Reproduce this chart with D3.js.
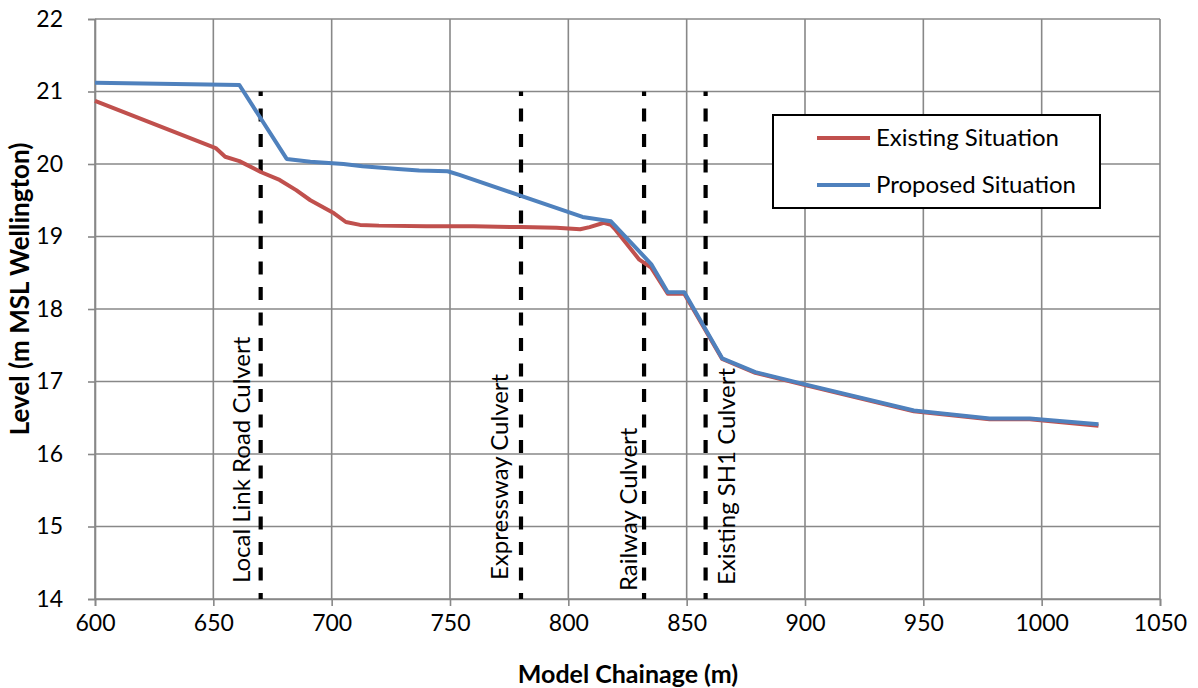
<!DOCTYPE html>
<html>
<head>
<meta charset="utf-8">
<script src="https://cdn.jsdelivr.net/npm/d3@7"></script>
<style>
  html, body { margin: 0; padding: 0; background: #fff; }
  svg { display: block; font-family: Lato, "Open Sans", sans-serif; }
</style>
</head>
<body>
<svg id="chart" width="1198" height="688"></svg>
<script>
// Water level profile along the model chainage
const existingChainage = [600, 651, 655, 661, 670, 678, 685, 691, 696, 701, 706, 712, 720, 740, 760, 780, 795, 805, 809, 815, 818, 820, 830, 835, 842, 849, 865, 879, 900, 946, 978, 995, 1024];
const existingLevel    = [20.87, 20.22, 20.10, 20.04, 19.89, 19.78, 19.64, 19.50, 19.41, 19.32, 19.20, 19.16, 19.15, 19.14, 19.14, 19.13, 19.12, 19.10, 19.13, 19.19, 19.16, 19.09, 18.68, 18.57, 18.21, 18.21, 17.31, 17.12, 16.95, 16.59, 16.48, 16.48, 16.39];

const proposedChainage = [600, 661, 681, 691, 705, 713, 728, 737, 749, 754, 780, 806, 818, 835, 842, 849, 865, 879, 900, 946, 978, 995, 1024];
const proposedLevel    = [21.12, 21.09, 20.07, 20.03, 20.00, 19.97, 19.93, 19.91, 19.90, 19.85, 19.56, 19.27, 19.21, 18.62, 18.23, 18.23, 17.32, 17.13, 16.96, 16.60, 16.49, 16.49, 16.41];

const culvertNames     = ["Local Link Road Culvert", "Expressway Culvert", "Railway Culvert", "Existing SH1 Culvert"];
const culvertChainage  = [670, 780, 832, 858];
const culvertLevelTop  = [21, 21, 21, 21];

const xTicks = [600, 650, 700, 750, 800, 850, 900, 950, 1000, 1050];
const yTicks = [14, 15, 16, 17, 18, 19, 20, 21, 22];

const seriesNames  = ["Existing Situation", "Proposed Situation"];
const seriesColors = ["#C0504D", "#4F81BD"];

const svg = d3.select("#chart");
const plotLeft = 95, plotRight = 1160, plotTop = 19, plotBottom = 599;

const x = d3.scaleLinear().domain([600, 1050]).range([plotLeft, plotRight]);
const y = d3.scaleLinear().domain([14, 22]).range([plotBottom, plotTop]);

const gridColor = "#888888";

// gridlines
const grid = svg.append("g");
grid.selectAll("line.v").data(xTicks).join("line").attr("class", "v")
  .attr("x1", d => x(d)).attr("x2", d => x(d))
  .attr("y1", plotTop).attr("y2", plotBottom)
  .attr("stroke", gridColor).attr("stroke-width", 1.6);
grid.selectAll("line.h").data(yTicks).join("line").attr("class", "h")
  .attr("x1", plotLeft).attr("x2", plotRight)
  .attr("y1", d => y(d)).attr("y2", d => y(d))
  .attr("stroke", gridColor).attr("stroke-width", 1.6);

// axes
const xAxis = d3.axisBottom(x).tickValues(xTicks).tickSize(7).tickPadding(9).tickFormat(d3.format("d"));
const yAxis = d3.axisLeft(y).tickValues(yTicks).tickSize(7).tickPadding(26).tickFormat(d3.format("d"));

const gx = svg.append("g").attr("transform", `translate(0,${plotBottom})`).call(xAxis);
const gy = svg.append("g").attr("transform", `translate(${plotLeft},0)`).call(yAxis);
[gx, gy].forEach(g => {
  g.select(".domain").attr("stroke", gridColor).attr("stroke-width", 1.6);
  g.selectAll(".tick line").attr("stroke", gridColor).attr("stroke-width", 1.6);
  g.selectAll(".tick text").attr("fill", "#000").style("font-size", "23px")
    .style("font-family", "Lato, 'Open Sans', sans-serif");
});
gy.selectAll(".tick text").attr("text-anchor", "end").attr("x", -(plotLeft - 63));

// culvert markers
const culverts = culvertNames.map((n, i) => ({ name: n, ch: culvertChainage[i], lvl: culvertLevelTop[i] }));
svg.append("g").selectAll("line").data(culverts).join("line")
  .attr("x1", d => x(d.ch)).attr("x2", d => x(d.ch))
  .attr("y1", d => y(d.lvl)).attr("y2", plotBottom)
  .attr("stroke", "#000").attr("stroke-width", 4.2)
  .attr("stroke-dasharray", "13,12.5").attr("stroke-dashoffset", 8.5);

// culvert labels (rotated, baseline offsets from the marker)
const labelDx     = [-11, -13, -7, 29];
const labelBottom = [583, 580, 591, 585];
svg.append("g").selectAll("text").data(culverts).join("text")
  .attr("transform", (d, i) => `translate(${x(d.ch) + labelDx[i]},${labelBottom[i]}) rotate(-90)`)
  .attr("text-anchor", "start")
  .style("font-size", "24px")
  .text(d => d.name);

// series lines
const line = d3.line().x(d => x(d[0])).y(d => y(d[1]));
const series = [
  d3.zip(existingChainage, existingLevel),
  d3.zip(proposedChainage, proposedLevel)
];
svg.append("g").selectAll("path").data(series).join("path")
  .attr("d", line)
  .attr("fill", "none")
  .attr("stroke", (d, i) => seriesColors[i])
  .attr("stroke-width", 4)
  .attr("stroke-linejoin", "round");

// legend
const lg = svg.append("g");
lg.append("rect").attr("x", 773).attr("y", 115).attr("width", 327).attr("height", 93)
  .attr("fill", "#fff").attr("stroke", "#000").attr("stroke-width", 2);
const legendRows = [138, 185];
seriesNames.forEach((n, i) => {
  lg.append("line").attr("x1", 817).attr("x2", 870)
    .attr("y1", legendRows[i]).attr("y2", legendRows[i])
    .attr("stroke", seriesColors[i]).attr("stroke-width", 4);
  lg.append("text").attr("x", 876).attr("y", legendRows[i]).attr("dy", "0.35em")
    .style("font-size", "24px").text(n);
});

// axis titles
svg.append("text").attr("x", 628).attr("y", 683).attr("text-anchor", "middle")
  .style("font-size", "25px").style("font-weight", "bold").text("Model Chainage (m)");
svg.append("text").attr("transform", "translate(29,289) rotate(-90)").attr("text-anchor", "middle")
  .style("font-size", "26px").style("font-weight", "bold").text("Level (m MSL Wellington)");
</script>
</body>
</html>
